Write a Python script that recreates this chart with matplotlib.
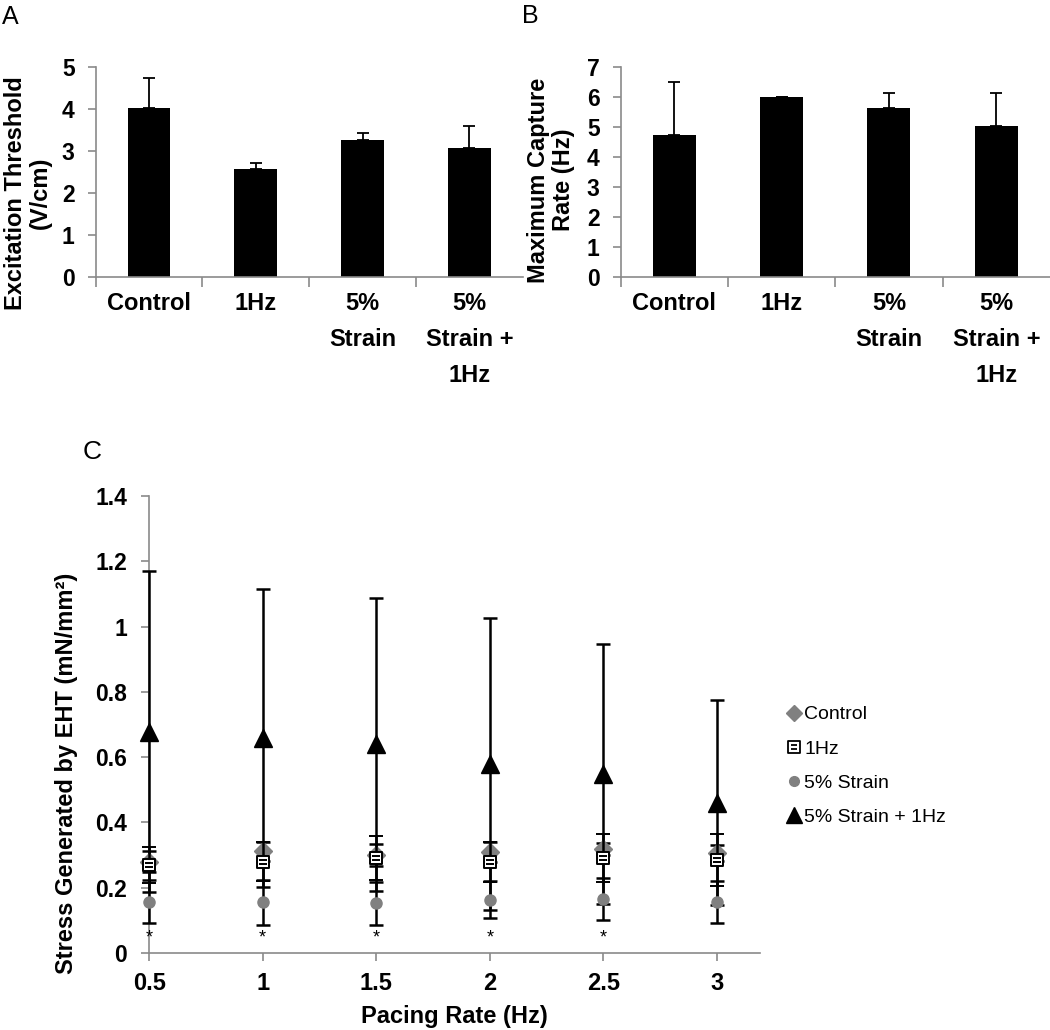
import numpy as np
import matplotlib
matplotlib.use("Agg")
import matplotlib.pyplot as plt
from matplotlib.path import Path
from matplotlib.lines import Line2D

plt.rcParams['font.family'] = ['Liberation Sans', 'DejaVu Sans']

# ---------------- data ----------------
groups = ["Control", "1Hz", "5%\nStrain", "5%\nStrain +\n1Hz"]
thresh_mean = [4.04, 2.58, 3.28, 3.07]
thresh_err = [0.70, 0.13, 0.15, 0.53]
capture_mean = [4.74, 6.00, 5.66, 5.03]
capture_err = [1.79, 0.02, 0.50, 1.11]

pacing = [0.5, 1.0, 1.5, 2.0, 2.5, 3.0]
ctrl_mean = [0.280, 0.311, 0.300, 0.309, 0.318, 0.306]
ctrl_err = [0.031, 0.030, 0.033, 0.031, 0.018, 0.025]
hz_mean = [0.270, 0.280, 0.290, 0.278, 0.290, 0.285]
hz_err = [0.055, 0.060, 0.067, 0.062, 0.074, 0.080]
strain_mean = [0.157, 0.155, 0.152, 0.163, 0.166, 0.155]
strain_err = [0.065, 0.069, 0.065, 0.057, 0.065, 0.064]
combo_mean = [0.678, 0.659, 0.639, 0.580, 0.548, 0.460]
combo_err = [0.491, 0.457, 0.449, 0.447, 0.397, 0.314]
star_x = [0.5, 1.0, 1.5, 2.0, 2.5]
star_y = 0.046

GREY = '#8a8a8a'
BOLD = 'bold'

fig = plt.figure(figsize=(10.5, 10.3), dpi=100)


def style_bar_axes(ax, ymax):
    for s in ['top', 'right']:
        ax.spines[s].set_visible(False)
    for s in ['left', 'bottom']:
        ax.spines[s].set_color(GREY)
        ax.spines[s].set_linewidth(1.2)
    ax.set_xlim(-0.5, 3.5)
    ax.set_ylim(0, ymax)
    ax.set_yticks(range(0, ymax + 1))
    ax.tick_params(axis='y', direction='out', length=6, color=GREY, width=1.2,
                   labelsize=16.5, pad=9)
    for lab in ax.get_yticklabels():
        lab.set_fontweight(BOLD)
    ax.set_xticks([-0.5, 0.5, 1.5, 2.5])
    ax.set_xticklabels([])
    ax.tick_params(axis='x', which='major', direction='out', length=7, color=GREY, width=1.2)
    ax.set_xticks(range(len(groups)), minor=True)
    ax.set_xticklabels(groups, minor=True, fontsize=17, fontweight=BOLD, linespacing=1.7)
    ax.tick_params(axis='x', which='minor', length=0, pad=11)


# ---------------- Panel A ----------------
axA = fig.add_axes([0.091, 0.731, 0.407, 0.2035])
xA = np.arange(len(groups))
axA.bar(xA, thresh_mean, width=0.4, color='black', zorder=2)
axA.errorbar(xA, thresh_mean, yerr=[np.zeros(len(xA)), thresh_err], fmt='none',
             ecolor='black', elinewidth=1.3, capsize=4.5, capthick=1.3, zorder=3)
style_bar_axes(axA, 5)
fig.text(28 / 1050, 1 - 193 / 1030, "Excitation Threshold\n(V/cm)", fontsize=17,
         fontweight=BOLD, linespacing=1.15, rotation=90, ha='center', va='center')
fig.text(0.002, 1 - 17 / 1030, "A", fontsize=18, va='center', ha='left')

# ---------------- Panel B ----------------
axB = fig.add_axes([0.591, 0.731, 0.409, 0.2035])
axB.bar(xA, capture_mean, width=0.4, color='black', zorder=2)
axB.errorbar(xA, capture_mean, yerr=[np.zeros(len(xA)), capture_err], fmt='none',
             ecolor='black', elinewidth=1.3, capsize=4.5, capthick=1.3, zorder=3)
style_bar_axes(axB, 7)
fig.text(551 / 1050, 1 - 180 / 1030, "Maximum Capture\nRate (Hz)", fontsize=17,
         fontweight=BOLD, linespacing=1.15, rotation=90, ha='center', va='center')
fig.text(522 / 1050, 1 - 16 / 1030, "B", fontsize=18, va='center', ha='left')

# ---------------- Panel C ----------------
axC = fig.add_axes([0.142, 0.0748, 0.582, 0.4437])
for s in ['top', 'right']:
    axC.spines[s].set_visible(False)
for s in ['left', 'bottom']:
    axC.spines[s].set_color(GREY)
    axC.spines[s].set_linewidth(1.2)
axC.set_xlim(0.5, 3.19)
axC.set_ylim(0, 1.4)
axC.set_xticks(pacing)
axC.set_xticklabels(['0.5', '1', '1.5', '2', '2.5', '3'], fontsize=17, fontweight=BOLD)
axC.set_yticks([0, 0.2, 0.4, 0.6, 0.8, 1.0, 1.2, 1.4])
axC.set_yticklabels(['0', '0.2', '0.4', '0.6', '0.8', '1', '1.2', '1.4'],
                    fontsize=16.5, fontweight=BOLD)
axC.tick_params(axis='both', direction='out', length=5.5, color=GREY, width=1.2)
axC.tick_params(axis='y', pad=10.5)
axC.tick_params(axis='x', pad=8)
axC.set_xlabel("Pacing Rate (Hz)", fontsize=17, fontweight=BOLD, labelpad=7.5)
fig.text(67 / 1050, 1 - 773 / 1030, "Stress Generated by EHT (mN/mm²)", fontsize=17,
         fontweight=BOLD, rotation=90, ha='center', va='center')

# striped square marker for 1Hz
sq_verts = [(-1, -1), (1, -1), (1, 1), (-1, 1), (-1, -1),
            (-0.6, 0.3), (0.6, 0.3), (-0.6, -0.3), (0.6, -0.3)]
sq_codes = [Path.MOVETO, Path.LINETO, Path.LINETO, Path.LINETO, Path.CLOSEPOLY,
            Path.MOVETO, Path.LINETO, Path.MOVETO, Path.LINETO]
striped_sq = Path(sq_verts, sq_codes)

ekw = dict(ecolor='black', elinewidth=1.8, capsize=5, capthick=1.8, linestyle='none')
axC.errorbar(pacing, combo_mean, yerr=combo_err, marker='^', markersize=13,
             color='black', zorder=3, clip_on=False, **ekw)
axC.errorbar(pacing, strain_mean, yerr=strain_err, marker='o', markersize=8,
             color='#808080', mec='#808080', zorder=4, clip_on=False, **ekw)
axC.errorbar(pacing, ctrl_mean, yerr=ctrl_err, marker='D', markersize=9,
             color='#808080', mec='#808080', zorder=5, clip_on=False, **ekw)
axC.errorbar(pacing, hz_mean, yerr=hz_err, marker=striped_sq, markersize=9,
             mfc='white', mec='black', mew=1.4, zorder=6, clip_on=False, **ekw)

for sx in star_x:
    axC.text(sx, star_y, '*', ha='center', va='center', fontsize=13, color='black')

fig.text(83 / 1050, 1 - 452 / 1030, "C", fontsize=19, va='center', ha='left')

handles = [
    Line2D([], [], linestyle='none', marker='D', markersize=8, color='#808080'),
    Line2D([], [], linestyle='none', marker=striped_sq, markersize=8, mfc='white',
           mec='black', mew=1.3),
    Line2D([], [], linestyle='none', marker='o', markersize=7, color='#808080'),
    Line2D([], [], linestyle='none', marker='^', markersize=11, color='black'),
]
labels = ["Control", "1Hz", "5% Strain", "5% Strain + 1Hz"]
fig.legend(handles, labels, loc='upper left', bbox_to_anchor=(0.7355, 0.328),
           frameon=False, fontsize=14, handlelength=0.8, handletextpad=0.15,
           labelspacing=0.85, borderpad=0.2)

fig.savefig("out.png", dpi=100)
